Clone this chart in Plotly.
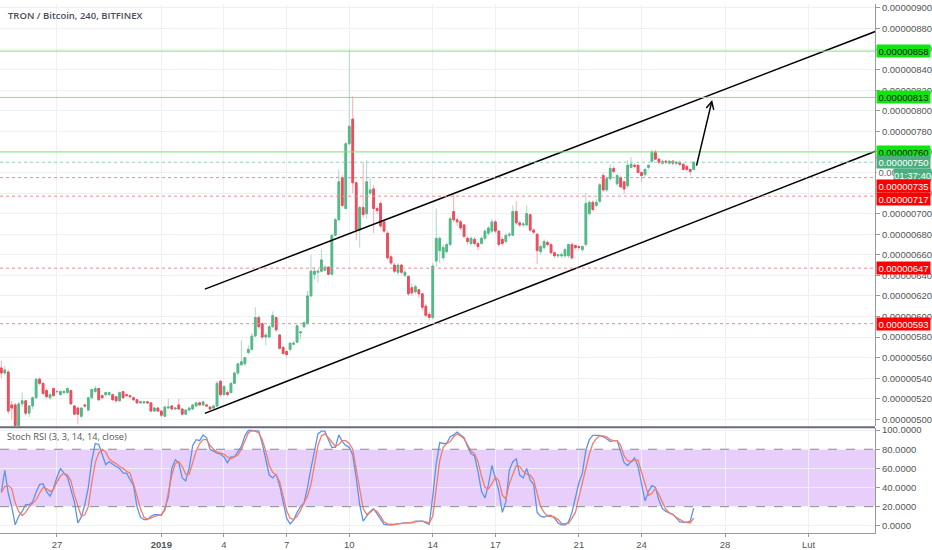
import numpy as np
import pandas as pd
import plotly.graph_objects as go

# 4h candles, prices in satoshi (1e-8 BTC)
times = pd.date_range("2018-12-24 08:00", periods=200, freq="4h")

opens = [550,545,546,514,514,494,515,518,506,513,
         521,539,535,528,521,530,527,524,526,526,
         528,513,511,503,514,509,521,527,530,523,
         524,524,524,522,518,527,524,523,521,519,
         516,516,517,516,508,511,508,503,511,513,
         510,514,510,505,509,510,513,516,514,514,
         512,511,513,537,524,526,526,535,545,553,
         554,565,568,581,599,593,580,580,590,599,
         582,570,566,568,573,575,584,590,593,620,
         641,643,644,645,648,641,679,694,735,705,
         768,792,730,684,706,700,720,724,705,710,
         692,681,658,650,643,650,640,639,628,624,
         626,622,610,602,599,654,664,657,663,670,
         702,694,692,689,676,671,675,671,671,676,
         681,683,692,683,675,673,679,679,702,691,
         689,689,699,684,680,663,667,672,670,662,
         659,659,659,659,670,669,668,665,670,700,
         711,708,712,737,723,734,744,729,735,731,
         727,745,747,747,740,738,745,751,760,753,
         749,751,749,751,749,750,748,746,743,743]
highs = [557,552,548,518,516,517,526,519,514,522,
         540,541,536,530,526,531,529,528,529,531,
         529,514,512,512,515,522,530,533,531,524,
         527,527,525,523,527,528,525,524,522,520,
         518,518,518,517,512,512,509,513,520,514,
         512,520,511,510,512,515,517,517,518,515,
         513,514,537,538,533,528,536,546,555,577,
         561,572,584,609,601,594,584,592,605,600,
         583,571,567,575,576,592,586,595,625,660,
         648,646,665,650,649,680,696,743,738,770,
         859,814,732,708,750,752,735,728,707,712,
         694,683,660,652,652,651,645,640,632,631,
         627,623,612,604,652,705,678,670,672,697,
         720,696,694,690,678,678,677,673,678,685,
         688,695,694,684,677,681,682,708,712,693,
         692,708,700,686,681,670,675,674,671,663,
         661,662,667,671,672,670,669,669,720,713,
         713,714,730,740,736,748,746,739,737,732,
         752,755,749,748,741,744,748,762,762,754,
         753,752,752,752,751,751,749,747,744,751]
lows = [540,543,505,500,492,493,512,504,502,510,
        520,533,524,520,519,522,525,523,524,525,
        514,504,495,501,511,508,520,526,518,520,
        522,523,518,516,517,520,522,521,518,515,
        515,515,515,507,507,507,502,502,510,509,
        509,509,504,504,508,509,512,513,513,512,
        509,510,512,522,523,523,525,534,543,552,
        552,563,567,580,588,578,572,579,589,585,
        568,563,560,566,572,574,578,589,592,619,
        636,633,643,644,640,640,678,693,706,704,
        766,720,674,667,696,695,718,681,700,686,
        681,655,650,642,640,641,638,620,620,622,
        618,606,599,596,597,648,652,655,661,668,
        692,688,684,676,670,669,669,664,670,674,
        679,681,681,668,669,671,677,678,689,687,
        687,688,682,680,651,660,665,668,660,657,
        657,657,657,657,655,665,665,663,668,698,
        702,706,710,721,721,732,739,727,725,719,
        725,744,744,739,731,736,743,749,752,748,
        748,748,748,747,747,746,742,741,737,742]
closes = [545,548,508,511,494,515,518,506,513,521,
          539,535,525,522,524,523,527,527,527,530,
          515,505,505,511,513,521,529,530,519,521,
          526,526,519,518,526,521,523,522,519,516,
          517,517,516,508,511,508,504,512,512,510,
          511,510,505,509,511,514,516,514,517,513,
          510,513,535,524,532,524,535,545,554,556,
          560,568,581,599,590,580,582,590,601,587,
          569,564,563,574,574,591,585,594,620,644,
          644,644,655,648,641,679,694,731,708,768,
          785,730,684,706,699,731,723,705,703,688,
          683,657,652,644,650,643,643,622,623,629,
          622,609,601,599,649,676,676,667,670,695,
          694,692,686,678,673,676,671,668,676,683,
          686,692,683,670,671,679,680,702,691,689,
          690,700,684,682,664,668,673,670,662,659,
          660,660,665,670,657,667,667,668,710,711,
          704,711,728,723,734,744,741,737,726,724,
          747,748,746,740,737,743,747,760,753,750,
          751,750,751,749,750,748,743,743,741,750]

# Stoch RSI (3, 3, 14, 14, close)
stoch_k = [35,58,34,20,1,10,15,22,22,25,
           35,43,44,36,31,39,51,60,55,51,
           38,25,3,9,22,40,68,86,85,74,
           64,67,64,62,60,55,55,48,42,20,
           9,6.5,6.5,10,11.7,11.7,11,18,30,60,
           69,66,50,47,60,84,90,89,95,92,
           80,78,76,75,72,66,72,72,77,83,
           94,99.6,99.6,99.6,99,86,68,53,50,54,
           42,24,8,2,6,14,20,24,40,60,
           80,96,99,99,90,82,82,95,88,84,
           82,74,50,22,5,10,15,18,13,7,
           1.4,1,0.7,1.4,2,3,3,3,3,5,
           5,5,3,1.5,31,65,87,86,86,93,
           95,98,95,92,83,75.5,73,57,36,29,
           43,63,50,36,14,25,58,67,70,53,
           50,60,48,43,14,10,9,11,11,8,
           3,1,1,4,14,28,45,55,79,90,
           94.5,94.5,94.5,93,91,88,89,89,78,66,
           63,67,71,62,45,26,36,42,40,27,
           18,15,13.5,12,8,4,3.5,3.8,5,18.6]
stoch_d = [35,41,42,39,24,15,10.7,14,20,23,
           27,34,40,39,36,38,46,52,55,53,
           47,32,22,10,11.5,20,45,66,76,80,
           77,70,67,65,62,60,57,55,44,30,
           18,9,7,8,10,11,11.7,16,33,53,
           65,67,62,54,54,65,78,86,90,90,
           84,80,77,76,75,72,70,72,74,80,
           89,97,99.5,99,97,90,78,63,56,53,
           46,31,16,8,6.5,10,16,24,31,43,
           62,84,94,96,92,87,83,85,89,89,
           86,80,58,36,18,12,14,17,15,10,
           4,2,1.4,1.4,2,2.4,2.7,3,3.4,3.8,
           4.4,5,4,3,10,41,68,82,86,88,
           93,96,94,91,85,78,75.5,67,52,40,
           38.5,44,51,47,32,28,44,53,63,62,
           57,54,53,48,33,20,14,10,10,9,
           6.5,2.4,2.4,2.4,8,14,30,45,60,75,
           86,91,94,94,93,90,89,89,84,73,
           68,67,68.6,68.6,56,43,32,34,39,33,
           25,17,13.4,11.7,9,6.5,4.4,3.5,3,8]

# levels drawn on the chart
green_levels = [858, 813, 760]
red_levels = [735, 717, 647, 593]
countdown = "01:37:40"

# trend channel (two points each) and the arrow
upper_x = ["2019-01-03 02:00", "2019-02-06 00:00"]
upper_y = [626.6, 891.2]
lower_x = ["2019-01-03 02:00", "2019-02-06 00:00"]
lower_y = [505.8, 775.0]
arrow_from = ("2019-01-26 14:48", 745.2)
arrow_to = ("2019-01-27 09:12", 810.6)

tick_dates = ["2018-12-27", "2019-01-01", "2019-01-04", "2019-01-07", "2019-01-10",
              "2019-01-14", "2019-01-17", "2019-01-21", "2019-01-24", "2019-01-28",
              "2019-02-01"]
tick_text = ["27", "<b>2019</b>", "4", "7", "10", "14", "17", "21", "24", "28", "Lut"]

SAT = 1e-8
o = np.array(opens) * SAT
h = np.array(highs) * SAT
l = np.array(lows) * SAT
c = np.array(closes) * SAT

fig = go.Figure()

# wicks in a light shade
fig.add_trace(go.Candlestick(
    x=times, open=o, high=h, low=l, close=c,
    increasing=dict(line=dict(color="#a9dac6", width=1), fillcolor="#a9dac6"),
    decreasing=dict(line=dict(color="#f5adb4", width=1), fillcolor="#f5adb4"),
    whiskerwidth=0, hoverinfo="skip", showlegend=False))
# solid bodies on top
fig.add_trace(go.Candlestick(
    x=times, open=o, high=np.maximum(o, c), low=np.minimum(o, c), close=c,
    increasing=dict(line=dict(color="#53b987", width=1), fillcolor="#53b987"),
    decreasing=dict(line=dict(color="#eb4d5c", width=1), fillcolor="#eb4d5c"),
    whiskerwidth=0, hoverinfo="skip", showlegend=False))

for xs, ys in [(upper_x, upper_y), (lower_x, lower_y)]:
    fig.add_trace(go.Scatter(x=xs, y=np.array(ys) * SAT, mode="lines",
                             line=dict(color="black", width=1.5),
                             hoverinfo="skip", showlegend=False))

fig.add_trace(go.Scatter(x=times, y=stoch_k, mode="lines", xaxis="x2", yaxis="y2",
                         line=dict(color="#5b93ee", width=1.3), hoverinfo="skip",
                         showlegend=False))
fig.add_trace(go.Scatter(x=times, y=stoch_d, mode="lines", xaxis="x2", yaxis="y2",
                         line=dict(color="#f47c66", width=1.3), hoverinfo="skip",
                         showlegend=False))

shapes = []
for lv in green_levels:
    shapes.append(dict(type="line", xref="paper", x0=0, x1=1, yref="y", y0=lv * SAT, y1=lv * SAT,
                       line=dict(color="#7fe67f", width=1)))
shapes.append(dict(type="line", xref="paper", x0=0, x1=1, yref="y", y0=c[-1], y1=c[-1],
                   line=dict(color="#8fd3b0", width=1, dash="dot")))
for lv in red_levels:
    shapes.append(dict(type="line", xref="paper", x0=0, x1=1, yref="y", y0=lv * SAT, y1=lv * SAT,
                       line=dict(color="#f08a8a", width=1, dash="dot")))
# stoch band
shapes.append(dict(type="rect", xref="paper", x0=0, x1=1, yref="y2", y0=20, y1=80,
                   fillcolor="#e8cffb", line=dict(width=0), layer="below"))
for v in (20, 80):
    shapes.append(dict(type="line", xref="paper", x0=0, x1=1, yref="y2", y0=v, y1=v,
                       line=dict(color="#8a8a8a", width=1, dash="dash")))

PLOT_H = 535
price_bottom = (PLOT_H - 427) / PLOT_H
rsi_top = (PLOT_H - 429) / PLOT_H
shapes.append(dict(type="line", xref="paper", x0=0, x1=1, yref="paper",
                   y0=(PLOT_H - 428) / PLOT_H, y1=(PLOT_H - 428) / PLOT_H,
                   line=dict(color="#6a6d78", width=2)))

annotations = [
    dict(text="TRON / Bitcoin, 240, BITFINEX", xref="paper", yref="paper", x=0.007,
         y=1 - 12 / PLOT_H, xanchor="left", yanchor="middle", showarrow=False,
         font=dict(family="Open Sans", size=9.5, color="#4a4e5a", weight=600)),
    dict(text="Stoch RSI (3, 3, 14, 14, close)", xref="paper", yref="paper", x=0.006,
         y=(PLOT_H - 437) / PLOT_H, xanchor="left", yanchor="middle", showarrow=False,
         font=dict(family="Open Sans", size=9.2, color="#555")),
    dict(x=arrow_to[0], y=arrow_to[1] * SAT, ax=arrow_from[0], ay=arrow_from[1] * SAT,
         xref="x", yref="y", axref="x", ayref="y", showarrow=True, text="",
         arrowhead=5, arrowsize=1, arrowwidth=1.5, arrowcolor="black"),
]

label_shift = {735: -8, 717: -3}
lab_font = "Liberation Sans"


def price_label(level, bg, fg, shift=0, text=None, xshift=0, width=53):
    return dict(x=1, xref="paper", y=level * SAT, yref="y", xanchor="left", yanchor="middle",
                text=text if text is not None else f"{level * SAT:.8f}", showarrow=False,
                bgcolor=bg, font=dict(family=lab_font, size=9.5, color=fg),
                width=width, height=12, borderpad=0, xshift=1 + xshift, yshift=shift)


for lv in green_levels:
    annotations.append(price_label(lv, "#0ee60e", "#111"))
last = closes[-1]
annotations.append(price_label(last, "#ffffff", "#666", shift=-10, text=f"{(last - 5) * SAT:.8f}"))
annotations.append(price_label(last, "#4caf80", "white"))
annotations.append(price_label(last, "#4caf80", "white", shift=-13, text=countdown,
                               xshift=17, width=37))
for lv in red_levels:
    annotations.append(price_label(lv, "#ff0000", "white", shift=label_shift.get(lv, 0)))

grid = "#edf0f5"
axis_font = dict(family=lab_font, size=9.5, color="#555")

fig.update_layout(
    width=932, height=550,
    margin=dict(l=0, r=56, t=0, b=550 - PLOT_H),
    paper_bgcolor="white", plot_bgcolor="white",
    hovermode=False, showlegend=False,
    shapes=shapes, annotations=annotations,
    xaxis=dict(domain=[0, 1], anchor="y", range=["2018-12-24 06:30", "2019-02-04 04:24"],
               tickvals=tick_dates, showticklabels=False, showgrid=True, gridcolor=grid,
               zeroline=False, rangeslider=dict(visible=False), ticks=""),
    xaxis2=dict(domain=[0, 1], anchor="y2", matches="x", tickvals=tick_dates, ticktext=tick_text,
                showgrid=True, gridcolor=grid, zeroline=False, ticks="outside", ticklen=3,
                tickcolor="#999", showline=True, linecolor="#999", tickfont=axis_font),
    yaxis=dict(domain=[price_bottom, 1], anchor="x", side="right",
               range=[493.3 * SAT, 903.85 * SAT], dtick=20 * SAT, tick0=0, tickformat=".8f",
               showgrid=True, gridcolor=grid, zeroline=False, ticks="outside", ticklen=4,
               tickcolor="#999", showline=True, linecolor="#999", tickfont=axis_font),
    yaxis2=dict(domain=[0, rsi_top], anchor="x2", side="right", range=[-7.5, 102],
                dtick=20, tickformat=".4f", showgrid=True, gridcolor=grid, zeroline=False,
                ticks="outside", ticklen=4, tickcolor="#999", showline=True, linecolor="#999",
                tickfont=axis_font),
)

# the page body has a default 8px margin; drop it so the figure sits at the corner
fig.write_html("out.html", config={"displayModeBar": False},
               post_script="document.body.style.margin='0';")
